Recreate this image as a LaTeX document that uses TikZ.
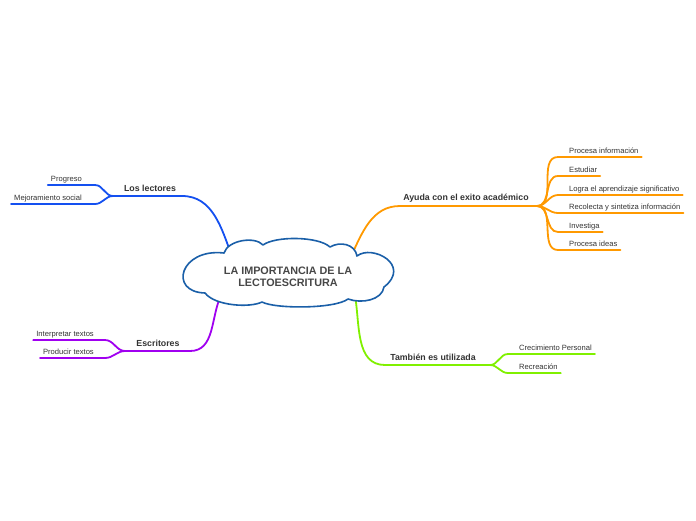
\documentclass[tikz,border=0pt]{standalone}
\usepackage{fontspec}
\setmainfont{Liberation Sans}
\usetikzlibrary{positioning, calc, shapes.geometric, backgrounds}

\definecolor{cloudblue}{HTML}{1A5FA8}
\definecolor{lectblue}{HTML}{1450F0}
\definecolor{acadorange}{HTML}{FF9900}
\definecolor{escpurple}{HTML}{A000F0}
\definecolor{usogreen}{HTML}{80F000}
\definecolor{txtgray}{HTML}{333333}

\begin{document}
\begin{tikzpicture}[x=1pt, y=-1pt,
  every node/.style={text=txtgray},
  topic/.style={font=\bfseries\fontsize{8.8}{10}\selectfont, inner sep=0pt},
  leaf/.style={font=\fontsize{7.6}{9}\selectfont, inner xsep=3pt, inner ysep=0pt},
  br/.style={line width=1.8pt, line cap=round}
]
  \useasboundingbox (0,0) rectangle (696,520);

  % central cloud
  \draw[cloudblue, line width=1.6pt, fill=white, line join=round]
    (224,253) .. controls (228,240) and (255,236) .. (263,245)
              .. controls (275,236) and (318,236) .. (330,247)
              .. controls (340,241) and (355,244) .. (357,256)
              .. controls (372,244) and (412,265) .. (384,287)
              .. controls (382,300) and (362,304) .. (348,299)
              .. controls (335,309) and (275,309) .. (262,302)
              .. controls (250,308) and (215,306) .. (205,293)
              .. controls (168,292) and (180,248) .. cycle;
  \node[ellipse, minimum width=190pt, minimum height=50pt, inner sep=0pt, align=center,
        font=\bfseries\fontsize{10.8}{12.5}\selectfont, text=txtgray!90] (root) at (288,277) {LA IMPORTANCIA DE LA\\LECTOESCRITURA};

  % Los lectores
  \coordinate (lectF) at (113,196);
  \coordinate (lectE) at (182,196);
  \node[topic, anchor=base] (lect) at (150,191) {Los lectores};
  \begin{scope}[on background layer]
    \draw[br, lectblue] (root.160) to[out=110,in=0] (lectE) -- (lectF);
  \end{scope}
  \foreach \t/\y [count=\i] in {Progreso/185, Mejoramiento social/204} {
    \coordinate (lects\i) at (95,\y);
    \node[leaf, anchor=base east] (lect\i) at ($(lects\i)+(-10,-4)$) {\t};
    \draw[br, lectblue] (lectF) to[out=180,in=0] (lects\i) -- (lects\i -| lect\i.west);
  }

  % Ayuda con el exito academico
  \coordinate (acadF) at (537,206);
  \coordinate (acadE) at (400,206);
  \node[topic, anchor=base] (acad) at (466,200) {Ayuda con el exito académico};
  \begin{scope}[on background layer]
    \draw[br, acadorange] (root.17) to[out=65,in=180] (acadE) -- (acadF);
  \end{scope}
  \foreach \t/\y [count=\i] in {Procesa información/157, Estudiar/176, Logra el aprendizaje significativo/195,
      Recolecta y sintetiza información/213, Investiga/232, Procesa ideas/250} {
    \coordinate (acads\i) at (558,\y);
    \node[leaf, anchor=base west] (acad\i) at ($(acads\i)+(8,-4)$) {\t};
    \draw[br, acadorange] (acadF) to[out=0,in=180] (acads\i) -- (acads\i -| acad\i.east);
  }

  % Escritores
  \coordinate (escF) at (125,351);
  \coordinate (escE) at (190,351);
  \node[topic, anchor=base] (esc) at (158,346) {Escritores};
  \begin{scope}[on background layer]
    \draw[br, escpurple] (root.195) to[out=-115,in=0] (escE) -- (escF);
  \end{scope}
  \foreach \t/\y [count=\i] in {Interpretar textos/340, Producir textos/358} {
    \coordinate (escs\i) at (105,\y);
    \node[leaf, anchor=base east] (esc\i) at ($(escs\i)+(-8,-4)$) {\t};
    \draw[br, escpurple] (escF) to[out=180,in=0] (escs\i) -- (escs\i -| esc\i.west);
  }

  % Tambien es utilizada
  \coordinate (usoF) at (490,365);
  \coordinate (usoE) at (385,365);
  \node[topic, anchor=base] (uso) at (433,360) {También es utilizada};
  \begin{scope}[on background layer]
    \draw[br, usogreen] (root.345) to[out=-80,in=180] (usoE) -- (usoF);
  \end{scope}
  \foreach \t/\y [count=\i] in {Crecimiento Personal/354, Recreación/373} {
    \coordinate (usos\i) at (508,\y);
    \node[leaf, anchor=base west] (uso\i) at ($(usos\i)+(8,-4)$) {\t};
    \draw[br, usogreen] (usoF) to[out=0,in=180] (usos\i) -- (usos\i -| uso\i.east);
  }
\end{tikzpicture}
\end{document}
